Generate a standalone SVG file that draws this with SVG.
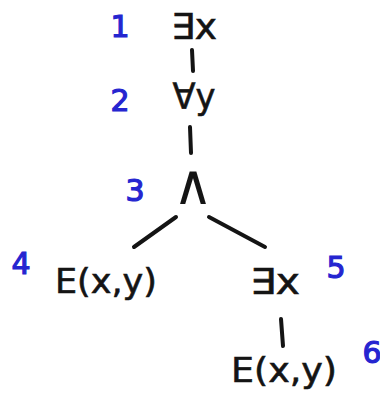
<svg xmlns="http://www.w3.org/2000/svg" width="380" height="401" viewBox="0 0 380 401">
<style>
.t{font-family:"DejaVu Sans","Liberation Sans",sans-serif;fill:#141414;stroke:#141414;stroke-width:0.6;text-anchor:middle}
.n{font-family:"DejaVu Sans","Liberation Sans",sans-serif;fill:#2525d0;stroke:#2525d0;stroke-width:1.2;font-size:30px;text-anchor:middle}
.e{stroke:#141414;stroke-width:4;stroke-linecap:round;fill:none}
</style>
<rect width="380" height="401" fill="#ffffff"/>
<g id="connectors">
<line class="e" x1="192" y1="50" x2="193" y2="71"/>
<line class="e" x1="190" y1="127" x2="191" y2="153"/>
<line class="e" x1="176" y1="217" x2="134" y2="247"/>
<line class="e" x1="209" y1="217" x2="265" y2="247"/>
<line class="e" x1="281" y1="319" x2="283" y2="346"/>
</g>
<g id="node1"><text class="t" x="194" y="39" font-size="36" textLength="46" lengthAdjust="spacingAndGlyphs">∃x</text><text class="n" x="120" y="37">1</text></g>
<g id="node2"><text class="t" x="194" y="109" font-size="36" textLength="43" lengthAdjust="spacingAndGlyphs">∀y</text><text class="n" x="120" y="111">2</text></g>
<g id="node3"><text class="t" x="193" y="204" font-size="56" textLength="40" lengthAdjust="spacingAndGlyphs" style="stroke-width:0">∧</text><text class="n" x="135" y="201">3</text></g>
<g id="node4"><text class="t" x="106" y="293" font-size="34" textLength="102" lengthAdjust="spacingAndGlyphs">E(x,y)</text><text class="n" x="21" y="274">4</text></g>
<g id="node5"><text class="t" x="275" y="294" font-size="36" textLength="50" lengthAdjust="spacingAndGlyphs">∃x</text><text class="n" x="336" y="278">5</text></g>
<g id="node6"><text class="t" x="284" y="382" font-size="34" textLength="106" lengthAdjust="spacingAndGlyphs">E(x,y)</text><text class="n" x="372" y="363">6</text></g>
</svg>
